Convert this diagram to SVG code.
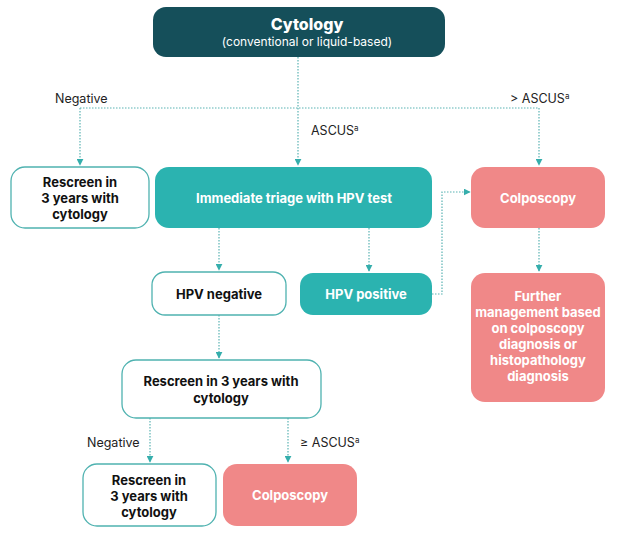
<svg xmlns="http://www.w3.org/2000/svg" width="625" height="540" viewBox="0 0 625 540">
<defs>
<marker id="ah" viewBox="0 0 10 10" refX="9" refY="5" markerWidth="7" markerHeight="7" orient="auto" markerUnits="userSpaceOnUse">
<path d="M0,0 L10,5 L0,10 z" fill="#35aeac"/>
</marker>
<style>
.c{fill:none;stroke:#5ab3b3;stroke-width:1.2;stroke-dasharray:1.5 1.5}
.a{marker-end:url(#ah)}
.w{fill:#ffffff;stroke:#4fb2b0;stroke-width:1.3}
.t{fill:#2bb3b0}
.p{fill:#f08888}
.d{fill:#154f5a}
.bt{font-family:Inter,"Liberation Sans",sans-serif;font-weight:700;font-size:13px;text-anchor:middle}
.k{fill:#111111}
.wh{fill:#ffffff}
.lb{font-family:Inter,"Liberation Sans",sans-serif;font-size:12.5px;fill:#222222}
</style>
</defs>
<rect width="625" height="540" fill="#ffffff"/>
<g id="connectors">
<path class="c" d="M298,57 V108"/>
<path class="c" d="M80,108 H539"/>
<path class="c a" d="M80,108 V165"/>
<path class="c a" d="M298,108 V165"/>
<path class="c a" d="M539,108 V165"/>
<path class="c a" d="M219,228 V270"/>
<path class="c a" d="M369,228 V271"/>
<path class="c a" d="M432,294 H442 V192 H470"/>
<path class="c a" d="M539,228 V271"/>
<path class="c a" d="M219,315 V358"/>
<path class="c a" d="M150,418 V462"/>
<path class="c a" d="M288,418 V462"/>
<text class="lb" x="55" y="103">Negative</text>
<text class="lb" x="311" y="135">ASCUS<tspan font-size="8" dy="-4">a</tspan></text>
<text class="lb" x="510" y="103">&gt; ASCUS<tspan font-size="8" dy="-4">a</tspan></text>
<text class="lb" x="87" y="447">Negative</text>
<text class="lb" x="300" y="447">≥ ASCUS<tspan font-size="8" dy="-4">a</tspan></text>
</g>
<g id="cytology">
<rect class="d" x="153" y="7" width="292" height="50" rx="13"/>
<text class="bt wh" x="307" y="30" style="font-size:16px;font-weight:800">Cytology</text>
<text x="307" y="46" font-family="Inter,'Liberation Sans',sans-serif" font-size="12" fill="#ffffff" text-anchor="middle">(conventional or liquid-based)</text>
</g>
<g id="rescreen1">
<rect class="w" x="11" y="167" width="138" height="61" rx="14"/>
<text class="bt k" x="80" y="187">Rescreen in</text>
<text class="bt k" x="80" y="203">3 years with</text>
<text class="bt k" x="80" y="219">cytology</text>
</g>
<g id="triage">
<rect class="t" x="155" y="167" width="277" height="61" rx="14"/>
<text class="bt wh" x="294" y="203">Immediate triage with HPV test</text>
</g>
<g id="colposcopy1">
<rect class="p" x="471" y="167" width="134" height="61" rx="14"/>
<text class="bt wh" x="538" y="203">Colposcopy</text>
</g>
<g id="hpvneg">
<rect class="w" x="152" y="272" width="134" height="43" rx="13"/>
<text class="bt k" x="219" y="299">HPV negative</text>
</g>
<g id="hpvpos">
<rect class="t" x="300" y="273" width="132" height="42" rx="13"/>
<text class="bt wh" x="366" y="299">HPV positive</text>
</g>
<g id="further">
<rect class="p" x="471" y="273" width="134" height="129" rx="14"/>
<text class="bt wh" x="538" y="301">Further</text>
<text class="bt wh" x="538" y="317">management based</text>
<text class="bt wh" x="538" y="333">on colposcopy</text>
<text class="bt wh" x="538" y="349">diagnosis or</text>
<text class="bt wh" x="538" y="365">histopathology</text>
<text class="bt wh" x="538" y="381">diagnosis</text>
</g>
<g id="rescreen2">
<rect class="w" x="122" y="360" width="199" height="58" rx="14"/>
<text class="bt k" x="221" y="386">Rescreen in 3 years with</text>
<text class="bt k" x="221" y="403">cytology</text>
</g>
<g id="rescreen3">
<rect class="w" x="83" y="464" width="133" height="62" rx="14"/>
<text class="bt k" x="149" y="485">Rescreen in</text>
<text class="bt k" x="149" y="501">3 years with</text>
<text class="bt k" x="149" y="517">cytology</text>
</g>
<g id="colposcopy2">
<rect class="p" x="223" y="464" width="134" height="62" rx="14"/>
<text class="bt wh" x="290" y="500">Colposcopy</text>
</g>
</svg>
